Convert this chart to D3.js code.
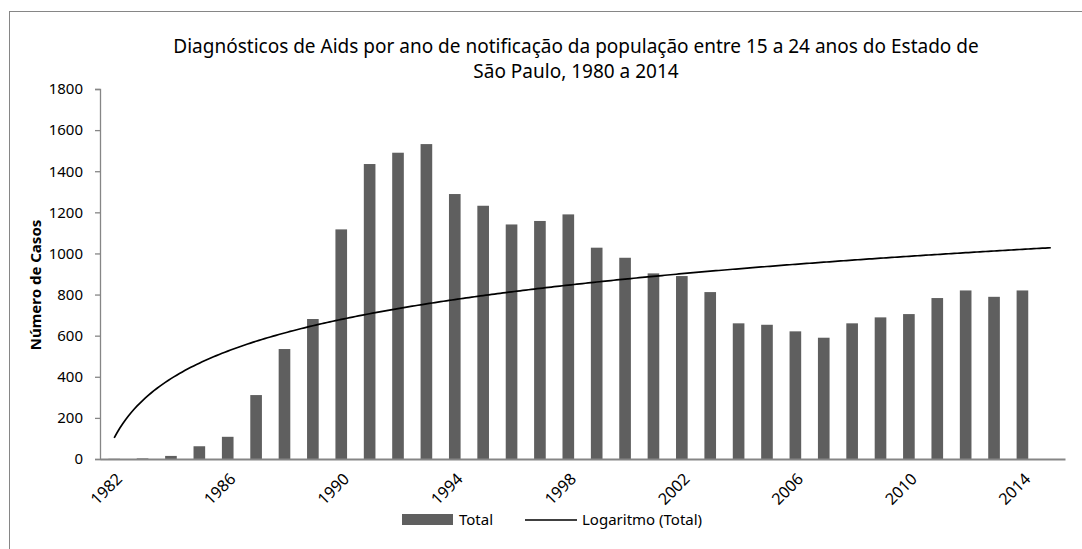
<!DOCTYPE html>
<html>
<head>
<meta charset="utf-8">
<script src="https://cdn.jsdelivr.net/npm/d3@7"></script>
<style>
  body { margin: 0; background: #fff; }
  text { font-family: "Noto Sans", "Open Sans", sans-serif; fill: #000; }
</style>
</head>
<body>
<svg id="chart" width="1082" height="549"></svg>
<script>
// data
var years = d3.range(1982, 2016);           // category axis 1982..2015
var totals = [1, 3, 15, 62, 108, 311, 535, 681, 1117, 1435, 1490, 1532, 1289, 1232,
  1141, 1158, 1190, 1028, 979, 903, 890, 812, 660, 653, 621, 590, 660, 689, 705,
  783, 820, 789, 820];                      // 1982..2014
var yTicks = [0, 200, 400, 600, 800, 1000, 1200, 1400, 1600, 1800];
var xLabels = [1982, 1986, 1990, 1994, 1998, 2002, 2006, 2010, 2014];
var titleLines = ["Diagnósticos de Aids por ano de notificação da população entre 15 a 24 anos do Estado de",
  "São Paulo, 1980 a 2014"];

var svg = d3.select("#chart");
var axisColor = "#868686";

// chart frame
svg.append("rect").attr("x", 9.5).attr("y", 11.5).attr("width", 1100).attr("height", 600)
  .attr("fill", "none").attr("stroke", axisColor);

var x = d3.scaleBand().domain(years).range([100, 1065]).paddingInner(0.59).paddingOuter(0.295);
var y = d3.scaleLinear().domain([0, 1800]).range([459, 89]);
// index scale for the trend curve (1 = first category)
var xi = d3.scaleLinear().domain([1, years.length])
  .range([x(years[0]) + x.bandwidth() / 2, x(years[years.length - 1]) + x.bandwidth() / 2]);

// logarithmic trend (Excel style: x = 1..n), forecast one period
var n = totals.length;
var lx = totals.map(function (d, i) { return Math.log(i + 1); });
var mx = d3.mean(lx), my = d3.mean(totals);
var sxy = 0, sxx = 0;
for (var i = 0; i < n; i++) {
  sxy += (lx[i] - mx) * (totals[i] - my);
  sxx += (lx[i] - mx) * (lx[i] - mx);
}
var slope = sxy / sxx, icpt = my - slope * mx;
var trend = d3.range(1, years.length + 0.001, 0.1).map(function (t) {
  return { t: t, v: slope * Math.log(t) + icpt };
});

// bars
svg.append("g").selectAll("rect")
  .data(totals)
  .enter().append("rect")
  .attr("x", function (d, i) { return x(years[i]); })
  .attr("width", x.bandwidth())
  .attr("y", function (d) { return y(d); })
  .attr("height", function (d) { return y(0) - y(d); })
  .attr("fill", "#5f5f5f");

// y axis
var yAxis = svg.append("g").attr("transform", "translate(100,0)")
  .call(d3.axisLeft(y).tickValues(yTicks).tickFormat(d3.format("d")).tickSize(5).tickPadding(12));
yAxis.selectAll("line, path").attr("stroke", axisColor).attr("stroke-width", 1.3);
yAxis.selectAll("text").style("font-size", "15px").attr("fill", "#000");

// x axis
var xAxis = svg.append("g").attr("transform", "translate(0,459)")
  .call(d3.axisBottom(x).tickValues(xLabels).tickSize(0).tickSizeOuter(0).tickPadding(0));
xAxis.select("path").attr("stroke", axisColor).attr("stroke-width", 2);
xAxis.selectAll("text")
  .style("font-size", "16px").attr("fill", "#000")
  .attr("text-anchor", "end")
  .attr("y", 0)
  .attr("dy", "0.35em")
  .attr("transform", "translate(5,17) rotate(-45)");

// trend line
var line = d3.line()
  .x(function (d) { return xi(d.t); })
  .y(function (d) { return y(d.v); });
svg.append("path").datum(trend)
  .attr("d", line).attr("fill", "none").attr("stroke", "#000").attr("stroke-width", 1.7);

// title
svg.append("g").selectAll("text")
  .data(titleLines)
  .enter().append("text")
  .attr("x", 576).attr("y", function (d, i) { return 53 + i * 25; })
  .attr("text-anchor", "middle")
  .style("font-size", "19px")
  .text(function (d) { return d; });

// y axis title
svg.append("text")
  .attr("transform", "translate(41,285) rotate(-90)")
  .attr("text-anchor", "middle")
  .style("font-size", "15px").style("font-weight", "bold")
  .text("Número de Casos");

// legend
var leg = svg.append("g");
leg.append("rect").attr("x", 402).attr("y", 514).attr("width", 51).attr("height", 11).attr("fill", "#5f5f5f");
leg.append("text").attr("x", 459).attr("y", 525).style("font-size", "15px").text("Total");
leg.append("line").attr("x1", 525).attr("x2", 577).attr("y1", 520).attr("y2", 520)
  .attr("stroke", "#000").attr("stroke-width", 1.7);
leg.append("text").attr("x", 582).attr("y", 525).style("font-size", "15px").text("Logaritmo (Total)");
</script>
</body>
</html>
